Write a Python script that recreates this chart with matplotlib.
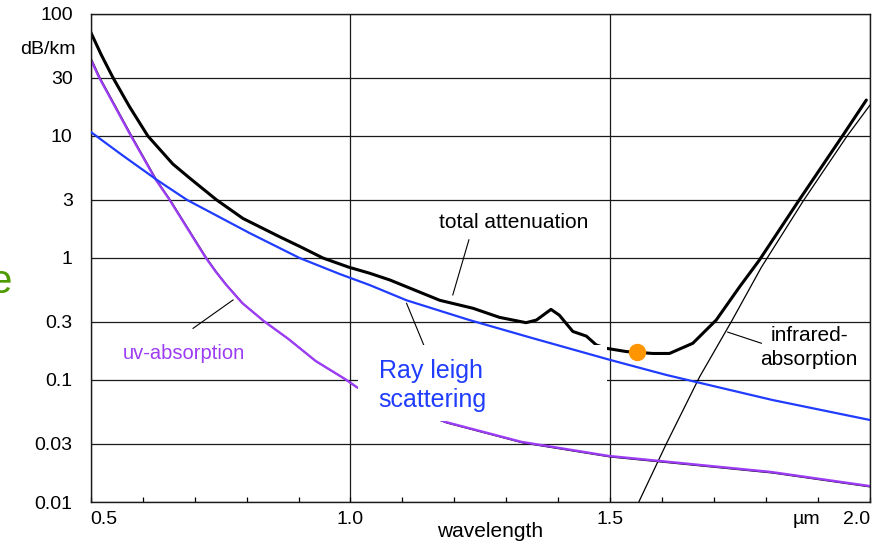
import matplotlib
matplotlib.use("Agg")
import matplotlib.pyplot as plt
import matplotlib.transforms as mtransforms
from matplotlib.patches import Rectangle

plt.rcParams['font.family'] = ['Liberation Sans', 'DejaVu Sans']

# values (wavelength in um, attenuation in dB/km)
total_wl = [0.5, 0.52, 0.543, 0.575, 0.61, 0.658, 0.691, 0.742, 0.793, 0.864, 0.903, 0.947,
            0.997, 1.037, 1.076, 1.172, 1.236, 1.287, 1.338, 1.358, 1.386, 1.402, 1.428,
            1.454, 1.473, 1.492, 1.531, 1.582, 1.614, 1.659, 1.704, 1.749, 1.787, 1.864,
            1.947, 1.993]
total_att = [71, 46.6, 30, 17.3, 10, 5.9, 4.5, 3.0, 2.11, 1.49, 1.24, 1.0,
             0.84, 0.75, 0.66, 0.45, 0.387, 0.326, 0.295, 0.31, 0.379, 0.34, 0.25,
             0.229, 0.194, 0.182, 0.171, 0.165, 0.165, 0.20, 0.31, 0.58, 0.96, 3.0,
             10, 19.7]

rayleigh_wl = [0.5, 0.56, 0.628, 0.685, 0.806, 0.902, 0.979, 1.037, 1.108, 1.229, 1.351, 1.5,
               1.608, 1.812, 2.0]
rayleigh_att = [10.8, 7.0, 4.35, 3.0, 1.6, 1.0, 0.74, 0.60, 0.45, 0.31, 0.22, 0.146,
                0.11, 0.0686, 0.047]

uv_wl = [0.5, 0.518, 0.579, 0.627, 0.653, 0.723, 0.742, 0.762, 0.794, 0.835, 0.883, 0.935,
         0.992, 1.015, 1.185, 1.332, 1.5, 1.812, 2.0]
uv_att = [44, 30, 10, 4.35, 3.0, 1.0, 0.77, 0.60, 0.42, 0.30, 0.213, 0.141,
          0.1, 0.0855, 0.0445, 0.0305, 0.0234, 0.0173, 0.0133]

ir_wl = [1.555, 1.608, 1.672, 1.733, 1.791, 1.873, 1.956, 2.0]
ir_att = [0.01, 0.03, 0.106, 0.3, 0.84, 3.0, 10, 17.9]

min_wl = 1.551
min_att = 0.17

yticks = [0.01, 0.03, 0.1, 0.3, 1, 3, 10, 30, 100]
ytick_labels = ['0.01', '0.03', '0.1', '0.3', '1', '3', '10', '30', '100']
xticks = [0.5, 1.0, 1.5, 2.0]
xtick_labels = ['0.5', '1.0', '1.5', '2.0']

purple = '#9d3cf5'
blue = '#1f3cff'

fig = plt.figure(figsize=(8.9, 5.44), dpi=100)
ax = fig.add_axes([0.1019, 0.0772, 0.8756, 0.8971])
ax.set_yscale('log')
ax.set_xlim(0.5, 2.0)
ax.set_ylim(0.01, 100)

ax.set_yticks(yticks)
ax.set_yticklabels(ytick_labels)
ax.yaxis.set_minor_locator(matplotlib.ticker.NullLocator())
ax.set_xticks(xticks)
ax.set_xticklabels(xtick_labels)
ax.set_xticks([0.6, 0.7, 0.8, 0.9, 1.1, 1.2, 1.3, 1.4, 1.6, 1.7, 1.8, 1.9], minor=True)
ax.tick_params(axis='y', length=0, pad=13, labelsize=14)
ax.tick_params(axis='x', which='both', direction='in', length=3.6, width=0.9, pad=6.5, labelsize=14)
lbls = ax.get_xticklabels()
lbls[0].set_ha('left')
lbls[-1].set_ha('right')

ax.set_axisbelow(True)
ax.grid(True, which='major', color='#1a1a1a', linewidth=0.9)
for s in ax.spines.values():
    s.set_linewidth(1.0)
    s.set_color('#1a1a1a')

# curves
ax.plot(total_wl, total_att, color='black', lw=2.2, zorder=2, solid_capstyle='round')
ax.plot(ir_wl, ir_att, color='black', lw=0.9, zorder=2)
ax.plot(uv_wl, uv_att, color='black', lw=0.9, zorder=2)
shifted = mtransforms.offset_copy(ax.transData, fig=fig, x=-1.3, y=1.0, units='dots')
ax.plot(uv_wl, uv_att, color=purple, lw=1.7, zorder=2.1, transform=shifted)

# pointer lines
ax.plot([1.228, 1.197], [1.41, 0.498], color='black', lw=0.8, zorder=2)
ax.plot([1.108, 1.141], [0.425, 0.194], color='black', lw=0.8, zorder=2)
ax.plot([0.774, 0.697], [0.453, 0.265], color='black', lw=0.8, zorder=2)
ax.plot([1.726, 1.791], [0.247, 0.20], color='black', lw=0.8, zorder=2)

# white box behind the rayleigh label
ax.add_patch(Rectangle((1.015, 0.046), 0.479, 0.148, facecolor='white', edgecolor='none', zorder=3))

ax.plot(rayleigh_wl, rayleigh_att, color=blue, lw=1.6, zorder=4)
ax.plot([min_wl], [min_att], 'o', color='#ff9500', markersize=11.5, zorder=5)

# labels
ax.text(1.314, 1.76, 'total attenuation', fontsize=15, ha='center', va='baseline', zorder=5)
ax.text(1.054, 0.060, 'Ray leigh\nscattering', fontsize=18, color=blue, ha='left', va='baseline',
        linespacing=1.25, zorder=5)
ax.text(0.680, 0.1486, 'uv-absorption', fontsize=14.5, color=purple, ha='center', va='baseline', zorder=5)
ax.text(1.883, 0.133, 'infrared-\nabsorption', fontsize=15, ha='center', va='baseline',
        multialignment='center', linespacing=1.3, zorder=5)

ax.annotate('dB/km', xy=(0, 51.6), xycoords=('axes fraction', 'data'), xytext=(-10.8, 0),
            textcoords='offset points', ha='right', va='center', fontsize=14)
ax.annotate('µm', xy=(1.877, 0), xycoords=('data', 'axes fraction'), xytext=(0, -6.5),
            textcoords='offset points', ha='center', va='top', fontsize=14)
ax.annotate('wavelength', xy=(0.513, 0), xycoords='axes fraction', xytext=(0, -21.5),
            textcoords='offset points', ha='center', va='center', fontsize=15)

# cut off green letter at the left edge
fig.text(12 / 890, 1 - 293 / 544, 'e', fontsize=29, color='#4d9a00', ha='right', va='baseline')

fig.savefig('out.png', dpi=100)
